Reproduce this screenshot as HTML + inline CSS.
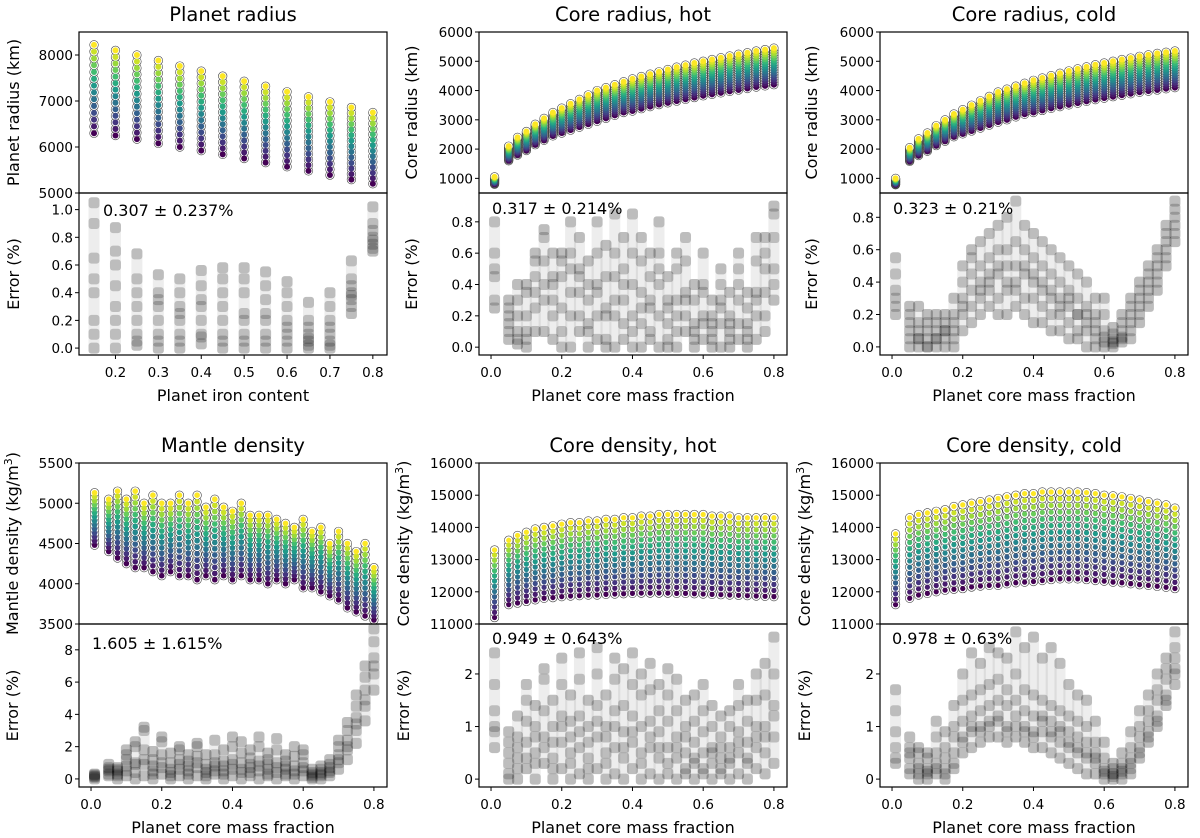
<!DOCTYPE html>
<html><head><meta charset="utf-8"><style>
body{margin:0;background:#fff}
svg{display:block;font-family:"DejaVu Sans","Liberation Sans",sans-serif}
</style></head><body>
<svg id="fig" width="1200" height="838" viewBox="0 0 1200 838" xmlns="http://www.w3.org/2000/svg"></svg>
<script>
// ---------- data ----------
const ironX=[0.15,0.2,0.25,0.3,0.35,0.4,0.45,0.5,0.55,0.6,0.65,0.7,0.75,0.8];
const radiusMax=[8220,8100,8000,7880,7760,7650,7540,7430,7320,7200,7090,6980,6860,6750];
const radiusMin=[6300,6250,6170,6080,6000,5920,5840,5750,5660,5570,5480,5390,5290,5200];
const radiusErr=[[0.0,0.1,0.2,0.4,0.65,0.9,1.05,0.5],[0.0,0.1,0.2,0.45,0.7,0.87,0.3,0.6],[0.02,0.1,0.3,0.5,0.68,0.2,0.4,0.05],[0.0,0.1,0.2,0.35,0.53,0.3,0.05,0.4],[0.0,0.1,0.2,0.3,0.5,0.4,0.05,0.25],[0.03,0.1,0.2,0.35,0.56,0.45,0.08,0.3],[0.0,0.1,0.2,0.4,0.58,0.3,0.05,0.5],[0.0,0.1,0.25,0.4,0.58,0.2,0.05,0.5],[0.0,0.1,0.2,0.35,0.55,0.45,0.05,0.25],[0.0,0.1,0.2,0.3,0.48,0.4,0.05,0.15],[0.0,0.05,0.1,0.2,0.33,0.02,0.15,0.07],[0.0,0.05,0.1,0.2,0.4,0.3,0.02,0.15],[0.25,0.3,0.35,0.4,0.5,0.63,0.38,0.45],[0.7,0.75,0.8,0.9,1.02,0.78,0.85,0.72]];
const cmfX=[0.01,0.05,0.075,0.1,0.125,0.15,0.175,0.2,0.225,0.25,0.275,0.3,0.325,0.35,0.375,0.4,0.425,0.45,0.475,0.5,0.525,0.55,0.575,0.6,0.625,0.65,0.675,0.7,0.725,0.75,0.775,0.8];
const coreHotMax=[1050,2100,2400,2600,2850,3050,3250,3400,3550,3700,3850,4000,4100,4200,4300,4400,4480,4560,4640,4720,4800,4870,4940,5000,5060,5120,5180,5240,5290,5350,5400,5450];
const coreHotMin=[800,1600,1800,1950,2150,2300,2450,2550,2650,2750,2850,2950,3050,3150,3250,3300,3380,3450,3520,3580,3640,3700,3760,3820,3870,3920,3970,4020,4070,4120,4160,4200];
const coreColdMax=[1000,2050,2350,2550,2800,3000,3200,3350,3500,3650,3800,3950,4050,4150,4250,4350,4430,4510,4590,4670,4740,4810,4880,4940,5000,5060,5110,5170,5220,5270,5310,5350];
const coreColdMin=[780,1580,1780,1930,2120,2270,2420,2520,2620,2720,2820,2920,3000,3100,3190,3250,3320,3390,3450,3510,3570,3630,3690,3740,3790,3840,3890,3940,3980,4020,4060,4100];
const mantleMax=[5130,5050,5150,5050,5150,5000,5100,5000,5000,5100,5000,5100,4950,5050,4950,4900,5000,4850,4850,4850,4800,4750,4700,4800,4650,4700,4500,4650,4500,4400,4500,4200];
const mantleMin=[4480,4400,4320,4250,4200,4200,4150,4100,4150,4100,4100,4050,4100,4050,4100,4050,4100,4050,4050,4000,4050,4000,4050,3950,3950,3900,3850,3800,3700,3650,3600,3550];
const densHotMax=[13300,13600,13750,13850,13950,14000,14050,14100,14150,14150,14200,14200,14250,14250,14300,14300,14350,14350,14400,14400,14400,14400,14400,14400,14350,14350,14350,14300,14300,14300,14300,14300];
const densHotMin=[11200,11600,11650,11700,11750,11800,11820,11850,11870,11880,11900,11900,11920,11930,11940,11950,11960,11960,11960,11960,11950,11950,11940,11930,11920,11910,11900,11890,11880,11870,11860,11850];
const densColdMax=[13800,14300,14400,14450,14500,14550,14650,14700,14750,14800,14850,14900,14950,15000,15050,15050,15100,15100,15100,15100,15100,15080,15050,15000,14980,14950,14900,14850,14800,14750,14700,14600];
const densColdMin=[11600,11800,11900,11950,12000,12050,12080,12100,12150,12180,12200,12200,12250,12280,12300,12320,12350,12380,12400,12400,12400,12380,12350,12330,12300,12280,12250,12220,12200,12170,12140,12100];
const errCoreHot=[[0.25,0.3,0.45,0.6,0.8,0.5],[0.05,0.15,0.3,0.2,0.1,0.25],[0.02,0.1,0.3,0.4,0.2,0.05],[0.05,0.1,0.4,0.35,0.2,0.0],[0.25,0.35,0.55,0.6,0.1,0.45],[0.1,0.3,0.4,0.7,0.75,0.55],[0.05,0.2,0.4,0.45,0.6,0.3],[0.25,0.45,0.6,0.55,0.1,0.0],[0.0,0.2,0.35,0.5,0.8,0.6],[0.1,0.35,0.5,0.7,0.45,0.2],[0.0,0.15,0.3,0.55,0.4,0.1],[0.05,0.2,0.4,0.6,0.8,0.35],[0.05,0.25,0.45,0.65,0.2,0.0],[0.0,0.2,0.45,0.6,0.85,0.3],[0.05,0.3,0.5,0.7,0.15,0.4],[0.0,0.2,0.6,0.85,0.4,0.1],[0.0,0.15,0.35,0.55,0.7,0.25],[0.05,0.25,0.45,0.6,0.3,0.1],[0.0,0.2,0.4,0.6,0.8,0.5],[0.05,0.15,0.3,0.45,0.25,0.0],[0.0,0.1,0.3,0.5,0.6,0.2],[0.1,0.2,0.35,0.55,0.7,0.3],[0.0,0.15,0.3,0.4,0.1,0.05],[0.05,0.2,0.4,0.6,0.35,0.15],[0.0,0.1,0.2,0.3,0.15,0.05],[0.0,0.15,0.25,0.5,0.4,0.3],[0.0,0.1,0.2,0.35,0.15,0.05],[0.05,0.15,0.3,0.5,0.6,0.4],[0.0,0.1,0.25,0.35,0.15,0.05],[0.05,0.2,0.35,0.55,0.7,0.3],[0.1,0.2,0.35,0.5,0.7,0.6],[0.3,0.5,0.7,0.85,0.9,0.4]];
const errCoreCold=[[0.2,0.3,0.45,0.55,0.25,0.35],[0.05,0.15,0.25,0.1,0.2,0.0],[0.0,0.05,0.1,0.15,0.25,0.05],[0.0,0.05,0.1,0.2,0.15,0.0],[0.0,0.05,0.15,0.2,0.1,0.05],[0.05,0.1,0.2,0.15,0.1,0.0],[0.0,0.1,0.2,0.3,0.15,0.05],[0.1,0.2,0.3,0.4,0.5,0.25],[0.15,0.25,0.35,0.45,0.55,0.6],[0.2,0.3,0.4,0.5,0.65,0.35],[0.25,0.35,0.45,0.55,0.7,0.4],[0.2,0.3,0.45,0.6,0.75,0.5],[0.2,0.35,0.5,0.6,0.8,0.4],[0.25,0.4,0.5,0.65,0.9,0.35],[0.2,0.3,0.45,0.6,0.75,0.5],[0.15,0.3,0.4,0.55,0.7,0.45],[0.15,0.25,0.35,0.5,0.65,0.4],[0.1,0.2,0.3,0.45,0.6,0.35],[0.1,0.2,0.3,0.4,0.55,0.25],[0.05,0.15,0.25,0.35,0.5,0.3],[0.05,0.1,0.2,0.3,0.45,0.2],[0.0,0.1,0.15,0.25,0.4,0.2],[0.0,0.05,0.1,0.2,0.3,0.15],[0.0,0.03,0.06,0.1,0.2,0.3],[0.0,0.02,0.05,0.08,0.12,0.03],[0.03,0.06,0.1,0.15,0.2,0.05],[0.1,0.15,0.2,0.25,0.3,0.05],[0.2,0.25,0.3,0.35,0.4,0.15],[0.3,0.35,0.4,0.45,0.5,0.25],[0.4,0.45,0.5,0.55,0.6,0.35],[0.55,0.6,0.65,0.7,0.75,0.5],[0.7,0.75,0.8,0.85,0.9,0.65]];
const errMantle=[[0.1,0.2,0.3,0.0,0.15,0.25],[0.3,0.6,0.9,0.5,0.2,0.7],[0.0,0.3,0.7,0.5,0.2,0.6],[0.2,0.8,1.5,1.2,0.5,1.8],[0.0,0.4,0.9,2.0,2.3,1.0],[0.2,0.9,1.8,3.0,3.2,1.2],[0.0,0.5,1.2,1.7,0.8,0.3],[0.3,0.7,1.5,2.3,2.6,1.0],[0.0,0.4,1.0,1.6,0.6,0.2],[0.2,0.6,1.2,1.8,2.0,0.9],[0.0,0.5,1.1,1.5,0.8,0.3],[0.2,0.7,1.4,2.0,2.2,1.0],[0.0,0.4,0.9,1.5,0.6,0.2],[0.3,0.8,1.0,1.5,2.4,0.5],[0.0,0.5,1.1,1.8,0.8,0.3],[0.2,0.6,1.2,2.0,2.6,0.9],[0.0,0.4,1.0,1.6,2.3,0.6],[0.2,0.7,1.3,1.8,0.9,0.4],[0.0,0.5,1.1,2.0,2.6,0.8],[0.2,0.6,1.2,1.6,0.9,0.3],[0.0,0.4,1.0,1.8,2.5,0.7],[0.2,0.6,1.1,1.5,0.8,0.3],[0.0,0.3,0.8,1.4,2.0,0.5],[0.2,0.5,1.0,1.5,1.8,0.7],[0.0,0.2,0.4,0.6,0.3,0.1],[0.0,0.3,0.6,0.8,0.4,0.2],[0.2,0.4,0.7,0.9,1.2,0.5],[0.6,1.0,1.5,2.0,2.4,1.2],[1.2,1.8,2.4,3.0,3.5,2.0],[2.2,3.0,3.8,4.5,5.2,3.4],[3.6,4.5,5.5,6.3,7.0,4.9],[5.5,6.5,7.5,8.5,9.3,7.0]];
const errDensHot=[[0.6,0.9,1.3,1.8,2.4,1.0],[0.1,0.5,0.9,0.3,0.7,0.0],[0.0,0.4,0.8,1.2,0.2,0.6],[0.2,0.7,1.1,1.5,1.8,0.4],[0.0,0.5,1.0,1.4,0.3,0.8],[0.3,0.8,1.3,1.9,2.1,0.6],[0.0,0.4,1.0,1.5,0.7,0.2],[0.2,0.7,1.2,1.8,2.3,1.0],[0.0,0.5,1.1,1.6,0.3,0.8],[0.1,0.6,1.2,1.9,2.4,0.9],[0.0,0.4,1.0,1.5,0.7,0.2],[0.2,0.8,1.4,2.0,2.5,1.1],[0.0,0.5,1.0,1.6,0.3,0.8],[0.1,0.6,1.3,1.9,2.3,1.0],[0.0,0.4,0.9,1.4,2.1,0.6],[0.2,0.7,1.2,1.8,2.4,0.9],[0.0,0.5,1.0,1.6,2.0,0.3],[0.1,0.6,1.1,1.7,2.2,0.8],[0.0,0.4,0.9,1.3,1.8,0.6],[0.1,0.6,1.1,1.6,2.1,0.3],[0.0,0.4,0.8,1.3,1.9,0.6],[0.1,0.5,1.0,1.5,0.2,0.8],[0.0,0.3,0.7,1.1,1.6,0.4],[0.1,0.5,0.9,1.3,1.8,0.2],[0.0,0.3,0.6,1.0,1.4,0.5],[0.1,0.4,0.8,1.2,0.2,0.6],[0.0,0.3,0.6,1.0,1.3,0.4],[0.1,0.5,0.9,1.4,1.8,0.7],[0.0,0.3,0.7,1.1,1.5,0.4],[0.2,0.6,1.0,1.5,2.0,0.8],[0.1,0.5,1.0,1.6,2.2,0.8],[0.3,0.8,1.4,2.0,2.7,1.2]];
const errDensCold=[[0.4,0.6,0.9,1.3,1.7,0.3],[0.2,0.4,0.6,0.8,0.5,0.1],[0.0,0.1,0.3,0.5,0.6,0.2],[0.0,0.1,0.2,0.4,0.5,0.15],[0.1,0.3,0.5,0.8,1.1,0.2],[0.0,0.2,0.4,0.6,0.9,0.1],[0.2,0.5,0.8,1.0,1.4,0.3],[0.5,0.8,1.1,1.5,2.0,0.7],[0.6,0.9,1.2,1.6,2.4,1.0],[0.7,1.0,1.3,1.7,2.2,0.9],[0.8,1.1,1.4,1.8,2.5,1.0],[0.8,1.2,1.5,1.9,2.4,1.1],[0.7,1.0,1.4,1.7,2.3,0.9],[0.8,1.2,1.5,2.0,2.8,1.0],[0.7,1.0,1.3,1.7,2.5,0.9],[0.6,0.9,1.2,1.6,2.7,0.8],[0.6,0.9,1.2,1.5,2.3,1.1],[0.5,0.8,1.1,1.4,2.5,0.9],[0.4,0.7,1.0,1.3,2.2,0.9],[0.3,0.6,0.9,1.2,1.8,0.7],[0.2,0.5,0.8,1.1,1.6,0.6],[0.1,0.4,0.7,1.0,1.5,0.5],[0.1,0.3,0.5,0.7,1.1,0.4],[0.0,0.1,0.2,0.4,0.7,0.15],[0.0,0.05,0.1,0.2,0.3,0.1],[0.0,0.1,0.2,0.3,0.5,0.15],[0.2,0.3,0.4,0.6,0.9,0.1],[0.4,0.6,0.8,1.0,1.3,0.5],[0.7,0.9,1.1,1.3,1.6,0.8],[1.0,1.2,1.5,1.7,2.0,1.1],[1.4,1.6,1.9,2.1,2.3,1.5],[1.8,2.0,2.3,2.5,2.8,2.1]];
const ironTicks=[0.2,0.3,0.4,0.5,0.6,0.7,0.8];
const cmfTicks=[0.0,0.2,0.4,0.6,0.8];

// ---------- helpers ----------
const NS="http://www.w3.org/2000/svg";
const svg=document.getElementById('fig');
function mk(tag,attrs,parent,txt){const e=document.createElementNS(NS,tag);for(const k in attrs)e.setAttribute(k,attrs[k]);if(txt!==undefined)e.textContent=txt;(parent||svg).appendChild(e);return e;}
const VIR=[[68,1,84],[72,40,120],[62,74,137],[49,104,142],[38,130,142],[31,158,137],[53,183,121],[110,206,88],[181,222,43],[253,231,37]];
function viridis(t){const s=t*(VIR.length-1),i=Math.min(Math.floor(s),VIR.length-2),f=s-i;const c=VIR[i].map((v,k)=>Math.round(v+(VIR[i+1][k]-v)*f));return `rgb(${c})`;}
function lin(d0,d1,r0,r1){return v=>r0+(v-d0)/(d1-d0)*(r1-r0);}

const colL=[79,479,880], W=308;
const rows=[{t:32,m:193,b:355},{t:463,m:624,b:787}];
const TF=13.5, LF=16;

function panel(o){
  const L=colL[o.col], R=L+W, rw=rows[o.row];
  const g=mk('g',{});
  
  
  const x=lin(o.xd[0],o.xd[1],L,R);
  const yT=lin(o.yt[0],o.yt[1],rw.m,rw.t);
  const yB=lin(o.yb[0],o.yb[1],rw.b,rw.m);
  const gt=mk('g',{'clip-path':`url(#c${o.id}t)`},g);
  
  
  const cp=mk('clipPath',{id:`c${o.id}t`},g);mk('rect',{x:L,y:rw.t,width:W,height:rw.m-rw.t},cp);
  const n=o.levels;
  o.xs.forEach((xv,i)=>{
    const mn=o.mn[i],mx=o.mx[i];
    for(let k=0;k<n;k++){
      const v=mn+(mx-mn)*k/(n-1);
      const c=mk('circle',{cx:x(xv),cy:yT(v),r:o.ro,fill:'#fff',stroke:'#444','stroke-width':0.6},gt);
      
      
    }
    for(let k=0;k<n;k++){
      const v=mn+(mx-mn)*k/(n-1);
      const c=mk('circle',{cx:x(xv),cy:yT(v),r:o.rd,fill:viridis(k/(n-1))},gt);
      
      
    }
  });
  const gb=mk('g',{'clip-path':`url(#c${o.id}b)`},g);
  
  
  const cp2=mk('clipPath',{id:`c${o.id}b`},g);mk('rect',{x:L,y:rw.m,width:W,height:rw.b-rw.m},cp2);
  const s=11;
  o.xs.forEach((xv,i)=>{
    const vals=o.err[i];const lo=Math.min(...vals),hi=Math.max(...vals);
    const b=mk('rect',{x:x(xv)-s/2,y:yB(hi)-s/2,width:s,height:yB(lo)-yB(hi)+s,rx:3,fill:'#000','fill-opacity':0.07},gb);
    
    
    vals.forEach(v=>{
      const r=mk('rect',{x:x(xv)-s/2,y:yB(v)-s/2,width:s,height:s,rx:3,fill:'#000','fill-opacity':0.2},gb);
      
      
    });
  });
  mk('rect',{x:L,y:rw.t,width:W,height:rw.m-rw.t,fill:'none',stroke:'#000','stroke-width':1.2},g);
  mk('rect',{x:L,y:rw.m,width:W,height:rw.b-rw.m,fill:'none',stroke:'#000','stroke-width':1.2},g);
  o.ytT.forEach(v=>{const yy=yT(v);mk('line',{x1:L-4,x2:L,y1:yy,y2:yy,stroke:'#000'},g);
    const t=mk('text',{x:L-6,y:yy+5,'text-anchor':'end','font-size':TF},g,String(v));});
  o.ytB.forEach((v,i)=>{const yy=yB(v);mk('line',{x1:L-4,x2:L,y1:yy,y2:yy,stroke:'#000'},g);
    const t=mk('text',{x:L-6,y:yy+5,'text-anchor':'end','font-size':TF},g,o.ytBl[i]);});
  o.xt.forEach(v=>{const xx=x(v);mk('line',{x1:xx,x2:xx,y1:rw.b,y2:rw.b+4,stroke:'#000'},g);
    const t=mk('text',{x:xx,y:rw.b+22,'text-anchor':'middle','font-size':TF},g,v.toFixed(1));});
  const tt=mk('text',{x:L+W/2,y:rw.t-11,'text-anchor':'middle','font-size':19.5},g,o.title);
  
  const xl=mk('text',{x:L+W/2,y:rw.b+46,'text-anchor':'middle','font-size':LF},g,o.xlabel);
  
  const ylx=L-o.ylOff;
  const yl=mk('text',{x:0,y:0,'text-anchor':'middle','font-size':LF,transform:`translate(${ylx},${(rw.t+rw.m)/2}) rotate(-90)`},g);
  yl.innerHTML=o.ylabel;
  
  const el=mk('text',{x:0,y:0,'text-anchor':'middle','font-size':LF,transform:`translate(${ylx},${(rw.m+rw.b)/2}) rotate(-90)`},g,'Error (%)');
  
  const an=mk('text',{x:L+o.annX,y:rw.m+o.annY,'font-size':16},g,o.ann);
  
}
const cmfD=[-0.034,0.837];
const f1=[0,0.2,0.4,0.6,0.8],l1=['0.0','0.2','0.4','0.6','0.8'];
panel({id:1,name:'planet-radius-panel',col:0,row:0,xd:[0.115,0.833],yt:[5000,8500],yb:[-0.05,1.12],xs:ironX,mn:radiusMin,mx:radiusMax,err:radiusErr,levels:14,ro:4.3,rd:3,
  ytT:[5000,6000,7000,8000],ytB:[0,0.2,0.4,0.6,0.8,1.0],ytBl:['0.0','0.2','0.4','0.6','0.8','1.0'],xt:ironTicks,title:'Planet radius',xlabel:'Planet iron content',ylabel:'Planet radius (km)',ylOff:60,ann:'0.307 ± 0.237%',annX:24,annY:23});
panel({id:2,name:'core-radius-hot-panel',col:1,row:0,xd:cmfD,yt:[500,6000],yb:[-0.05,0.984],xs:cmfX,mn:coreHotMin,mx:coreHotMax,err:errCoreHot,levels:16,ro:4.3,rd:3,
  ytT:[1000,2000,3000,4000,5000,6000],ytB:f1,ytBl:l1,xt:cmfTicks,title:'Core radius, hot',xlabel:'Planet core mass fraction',ylabel:'Core radius (km)',ylOff:62,ann:'0.317 ± 0.214%',annX:13,annY:21});
panel({id:3,name:'core-radius-cold-panel',col:2,row:0,xd:cmfD,yt:[500,6000],yb:[-0.05,0.95],xs:cmfX,mn:coreColdMin,mx:coreColdMax,err:errCoreCold,levels:16,ro:4.3,rd:3,
  ytT:[1000,2000,3000,4000,5000,6000],ytB:f1,ytBl:l1,xt:cmfTicks,title:'Core radius, cold',xlabel:'Planet core mass fraction',ylabel:'Core radius (km)',ylOff:63,ann:'0.323 ± 0.21%',annX:13,annY:21});
panel({id:4,name:'mantle-density-panel',col:0,row:1,xd:cmfD,yt:[3500,5500],yb:[-0.5,9.6],xs:cmfX,mn:mantleMin,mx:mantleMax,err:errMantle,levels:14,ro:4.3,rd:2.8,
  ytT:[3500,4000,4500,5000,5500],ytB:[0,2,4,6,8],ytBl:['0','2','4','6','8'],xt:cmfTicks,title:'Mantle density',xlabel:'Planet core mass fraction',ylabel:'Mantle density (kg/m<tspan dy="-6" font-size="11">3</tspan><tspan dy="6">)</tspan>',ylOff:61,ann:'1.605 ± 1.615%',annX:13,annY:25});
panel({id:5,name:'core-density-hot-panel',col:1,row:1,xd:cmfD,yt:[11000,16000],yb:[-0.15,2.95],xs:cmfX,mn:densHotMin,mx:densHotMax,err:errDensHot,levels:14,ro:4.3,rd:2.6,
  ytT:[11000,12000,13000,14000,15000,16000],ytB:[0,1,2],ytBl:['0','1','2'],xt:cmfTicks,title:'Core density, hot',xlabel:'Planet core mass fraction',ylabel:'Core density (kg/m<tspan dy="-6" font-size="11">3</tspan><tspan dy="6">)</tspan>',ylOff:70,ann:'0.949 ± 0.643%',annX:13,annY:20});
panel({id:6,name:'core-density-cold-panel',col:2,row:1,xd:cmfD,yt:[11000,16000],yb:[-0.15,2.95],xs:cmfX,mn:densColdMin,mx:densColdMax,err:errDensCold,levels:14,ro:4.3,rd:2.6,
  ytT:[11000,12000,13000,14000,15000,16000],ytB:[0,1,2],ytBl:['0','1','2'],xt:cmfTicks,title:'Core density, cold',xlabel:'Planet core mass fraction',ylabel:'Core density (kg/m<tspan dy="-6" font-size="11">3</tspan><tspan dy="6">)</tspan>',ylOff:70,ann:'0.978 ± 0.63%',annX:12,annY:20});
</script>
</body></html>
